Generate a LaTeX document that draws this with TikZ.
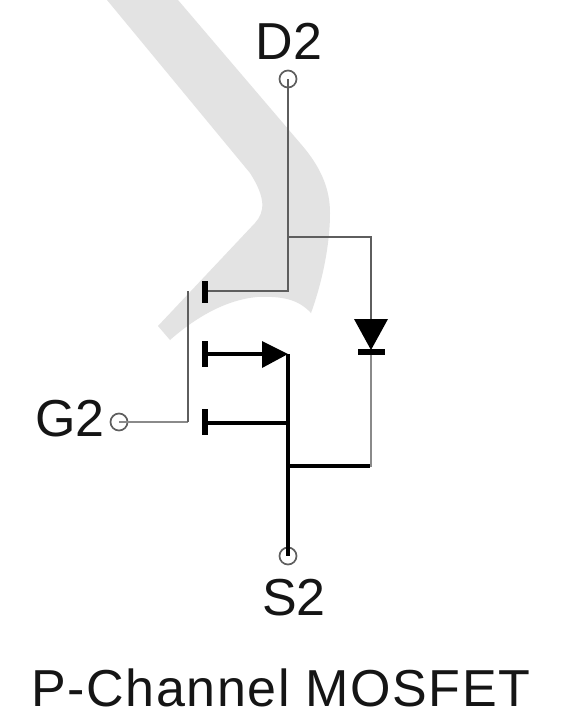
\documentclass[tikz,border=0pt]{standalone}
\usepackage{fontspec}
\setmainfont{Liberation Sans}
\newfontfamily\captfont[LetterSpace=3]{Liberation Sans}
\definecolor{band}{HTML}{E3E3E3}
\definecolor{wiregray}{HTML}{5E5E5E}
\definecolor{gatewire}{HTML}{8A8A8A}
\definecolor{txt}{HTML}{151515}
\tikzset{
  x=1pt,y=-1pt,
  pin/.style={circle,draw=wiregray,line width=1.7pt,fill=white,minimum size=17pt,inner sep=0pt},
  wireg/.style={draw=wiregray,line width=2.6pt},
  wirek/.style={draw=black,line width=3.2pt},
  solidblk/.style={fill=black,draw=none},
  lab/.style={text=txt,font=\fontsize{52}{52}\selectfont,inner sep=0pt,anchor=base}
}
\begin{document}
\begin{tikzpicture}
\useasboundingbox (0,0) rectangle (563,716);
\fill[white] (0,0) rectangle (563,716);
% watermark band
\fill[band] (178,0) -- (300,143) .. controls (322,168) and (330,190) .. (330,213)
  .. controls (330,245) and (322,283) .. (311,313)
  .. controls (298,299) and (282,296) .. (257,297)
  .. controls (225,300) and (195,318) .. (170,340)
  -- (158,326) -- (255,223) .. controls (265,212) and (266,198) .. (250,173) -- (107,0) -- cycle;
% named points
\coordinate (djoin) at (288,237);
\coordinate (dcorner) at (288,291);
\coordinate (dgate) at (205,291);
\coordinate (dright) at (371,237);
\coordinate (anode) at (371,352);
\coordinate (cath) at (371,319);
\coordinate (rcorner) at (371,467);
\coordinate (rend) at (370,466);
\coordinate (sjoin) at (288,466);
\coordinate (stop) at (288,354);
\coordinate (smid) at (288,423);
\coordinate (bar2) at (205,354);
\coordinate (bar3) at (205,423);
\coordinate (arrowbase) at (262,354);
\coordinate (gtop) at (188,291);
\coordinate (gcorner) at (188,422);
% pins
\node[pin] (D) at (288,79) {};
\node[pin] (G) at (119,422) {};
\node[pin] (S) at (288,556) {};
% drain wires
\draw[wireg] (D.center) -- (dcorner) -- (dgate);
\draw[wireg] (djoin) -- (dright) -- (cath);
% gate
\draw[draw=gatewire,line width=2.2pt] (G.center) -- (gcorner);
\draw[wireg] (gcorner) -- (gtop);
% diode lower lead
\draw[draw=gatewire,line width=2.8pt] (anode) -- (rcorner);
% source
\draw[wirek] (stop) -- (S.center);
\draw[wirek] (sjoin) -- (rend);
\draw[wirek] (bar3) -- (smid);
\draw[wirek] (bar2) -- (arrowbase);
% channel bars
\fill[black] (202,281) rectangle (208,303);
\fill[black] (202,341) rectangle (208,367);
\fill[black] (202,409) rectangle (208,435);
% source arrow
\fill[solidblk] (262,341) -- (288,354) -- (262,368) -- cycle;
% diode
\fill[solidblk] (354,319) -- (388,319) -- (371,350) -- cycle;
\fill[black] (358,349) rectangle (385,354.5);
% labels
\node[lab] at (289,59) {D2};
\node[lab] at (70,436) {G2};
\node[lab] at (294,615) {S2};
\node[lab,font=\captfont\fontsize{52}{52}\selectfont] at (281,706) {P-Channel MOSFET};
\end{tikzpicture}
\end{document}
